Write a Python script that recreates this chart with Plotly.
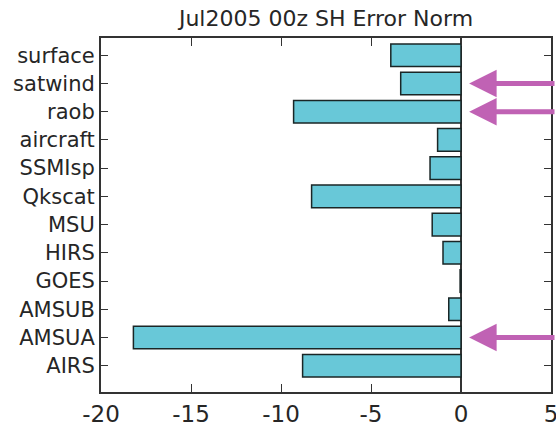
import plotly.graph_objects as go

# Observation types, listed from top to bottom of the chart
obs_types = ["surface", "satwind", "raob", "aircraft", "SSMIsp", "Qkscat",
             "MSU", "HIRS", "GOES", "AMSUB", "AMSUA", "AIRS"]
# Error-norm impact per observation type
impact = [-3.9, -3.35, -9.3, -1.3, -1.72, -8.3,
          -1.6, -1.0, -0.05, -0.68, -18.2, -8.8]
# Observation types highlighted with arrows
highlighted = ["satwind", "raob", "AMSUA"]

x_ticks = [-20, -15, -10, -5, 0, 5]

TEXT = "#262626"
FRAME = "#333333"
FONT = "DejaVu Sans"

fig = go.Figure()
fig.add_trace(go.Bar(
    x=impact,
    y=obs_types,
    orientation="h",
    width=0.8,
    marker=dict(color="#68c8d8", line=dict(color="#1a2626", width=1.5)),
    showlegend=False,
))

for name in highlighted:
    fig.add_annotation(
        x=0.45, y=name, xref="x", yref="y",
        ax=130, ay=0, axref="pixel", ayref="pixel",
        showarrow=True, arrowhead=2, arrowsize=1.1, arrowwidth=5,
        arrowcolor="#c062b4", text="",
    )

fig.update_layout(
    width=556, height=428,
    margin=dict(l=101, r=5, t=38, b=36, autoexpand=False),
    paper_bgcolor="white", plot_bgcolor="white",
    font=dict(family=FONT, color=TEXT),
    title=dict(text="Jul2005 00z SH Error Norm", x=0.5, xref="paper",
               xanchor="center", y=1 - 18 / 428, yref="container",
               yanchor="middle", font=dict(size=22, family=FONT, color=TEXT)),
    bargap=0.2,
)

fig.update_xaxes(
    range=[-20, 5], tickvals=x_ticks, ticktext=[str(v) for v in x_ticks],
    ticklabeloverflow="allow", automargin=False,
    showgrid=False, zeroline=True, zerolinecolor=FRAME, zerolinewidth=1.5,
    showline=True, linecolor=FRAME, linewidth=2, mirror="allticks",
    ticks="inside", ticklen=8, tickwidth=1, tickcolor=FRAME,
    tickfont=dict(size=23, family=FONT, color=TEXT),
)
fig.update_yaxes(
    categoryorder="array", categoryarray=list(reversed(obs_types)),
    range=[-0.93, 11.61], automargin=False,
    showgrid=False, zeroline=False,
    showline=True, linecolor=FRAME, linewidth=2, mirror="allticks",
    ticks="inside", ticklen=7, tickwidth=1, tickcolor=FRAME,
    tickfont=dict(size=21, family=FONT, color=TEXT),
)

fig.write_html("out.html")
